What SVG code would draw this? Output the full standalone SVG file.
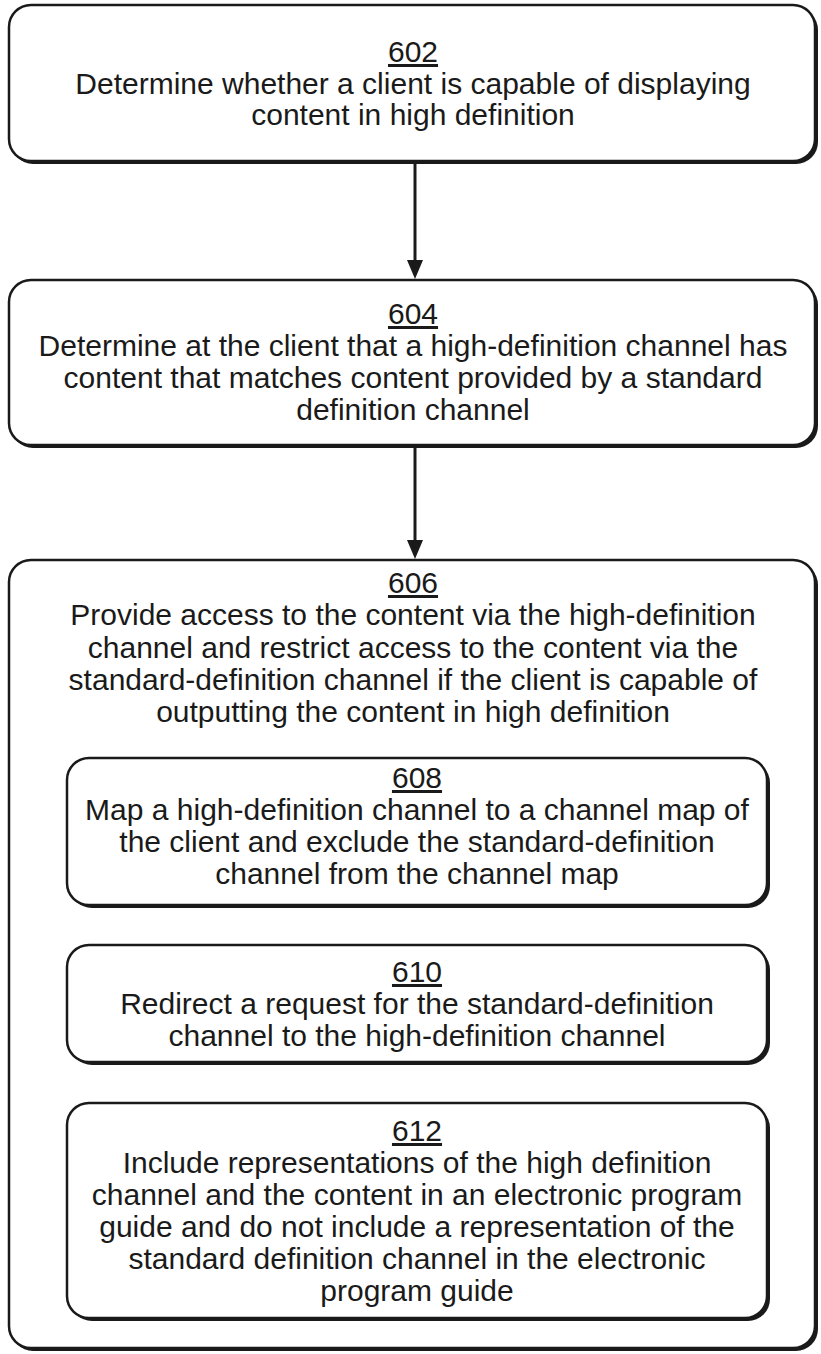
<svg xmlns="http://www.w3.org/2000/svg" width="821" height="1354" viewBox="0 0 821 1354">
<style>
.box{fill:#fff;stroke:#1a1a1a;stroke-width:2.5}
.sh{fill:#1a1a1a}
.t{font-family:"Liberation Sans",Arial,sans-serif;font-size:30px;fill:#1a1a1a;text-anchor:middle}
.n{text-decoration:underline}
.c{stroke:#1a1a1a;stroke-width:3;fill:none}
.ah{fill:#1a1a1a}
</style>
<g id="connectors">
<line class="c" x1="415" y1="164" x2="415" y2="262"/>
<path class="ah" d="M407,260 L423,260 L415,279 Z"/>
<line class="c" x1="415" y1="447" x2="415" y2="542"/>
<path class="ah" d="M407,540 L423,540 L415,559 Z"/>
</g>
<g id="n602">
<rect class="sh" x="11" y="8" width="807" height="156" rx="22"/>
<rect class="box" x="9" y="5" width="806" height="156" rx="22"/>
<text class="t n" x="413" y="62">602</text>
<text class="t" x="413" y="94">Determine whether a client is capable of displaying</text>
<text class="t" x="413" y="125">content in high definition</text>
</g>
<g id="n604">
<rect class="sh" x="11" y="283" width="807" height="165" rx="22"/>
<rect class="box" x="9" y="280" width="806" height="165" rx="22"/>
<text class="t n" x="413" y="324">604</text>
<text class="t" x="413" y="356">Determine at the client that a high-definition channel has</text>
<text class="t" x="413" y="388">content that matches content provided by a standard</text>
<text class="t" x="413" y="420">definition channel</text>
</g>
<g id="n606">
<rect class="sh" x="11" y="563" width="807" height="788" rx="22"/>
<rect class="box" x="9" y="560" width="806" height="788" rx="22"/>
<text class="t n" x="413" y="593">606</text>
<text class="t" x="413" y="625">Provide access to the content via the high-definition</text>
<text class="t" x="413" y="658">channel and restrict access to the content via the</text>
<text class="t" x="413" y="690">standard-definition channel if the client is capable of</text>
<text class="t" x="413" y="722">outputting the content in high definition</text>
</g>
<g id="n608">
<rect class="sh" x="70" y="761" width="700" height="147" rx="22"/>
<rect class="box" x="67" y="758" width="700" height="147" rx="22"/>
<text class="t n" x="417" y="788">608</text>
<text class="t" x="417" y="820">Map a high-definition channel to a channel map of</text>
<text class="t" x="417" y="852">the client and exclude the standard-definition</text>
<text class="t" x="417" y="884">channel from the channel map</text>
</g>
<g id="n610">
<rect class="sh" x="70" y="948" width="700" height="117" rx="22"/>
<rect class="box" x="67" y="945" width="700" height="117" rx="22"/>
<text class="t n" x="417" y="982">610</text>
<text class="t" x="417" y="1014">Redirect a request for the standard-definition</text>
<text class="t" x="417" y="1046">channel to the high-definition channel</text>
</g>
<g id="n612">
<rect class="sh" x="70" y="1106" width="700" height="215" rx="22"/>
<rect class="box" x="67" y="1103" width="700" height="215" rx="22"/>
<text class="t n" x="417" y="1141">612</text>
<text class="t" x="417" y="1173">Include representations of the high definition</text>
<text class="t" x="417" y="1205">channel and the content in an electronic program</text>
<text class="t" x="417" y="1237">guide and do not include a representation of the</text>
<text class="t" x="417" y="1269">standard definition channel in the electronic</text>
<text class="t" x="417" y="1301">program guide</text>
</g>
</svg>
